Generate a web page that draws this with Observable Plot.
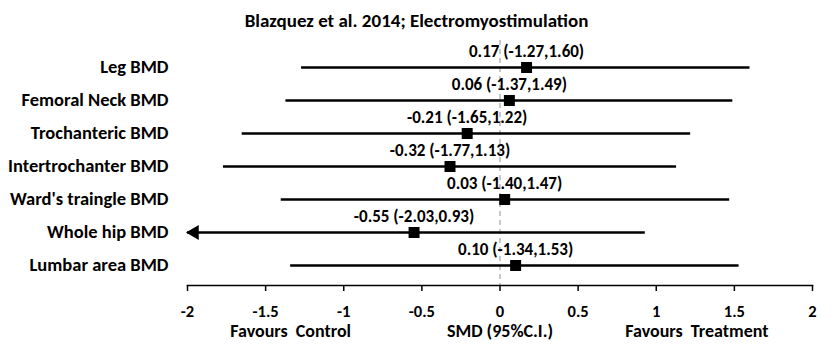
<!DOCTYPE html>
<html><head><meta charset="utf-8">
<script src="https://cdn.jsdelivr.net/npm/d3@7"></script>
<script src="https://cdn.jsdelivr.net/npm/@observablehq/plot@0.6"></script>
<style>
body{margin:0;background:#fff;}
svg{font-family:Carlito,"Liberation Sans Narrow","DejaVu Sans Condensed",sans-serif;font-weight:bold;}
</style></head>
<body><div id="chart"></div>
<script>
const title = "Blazquez et al. 2014; Electromyostimulation";
const outcomes = ["Leg BMD","Femoral Neck BMD","Trochanteric BMD","Intertrochanter BMD","Ward's traingle BMD","Whole hip BMD","Lumbar area BMD"];
const smd = [0.17, 0.06, -0.21, -0.32, 0.03, -0.55, 0.10];
const lower = [-1.27, -1.37, -1.65, -1.77, -1.40, -2.03, -1.34];
const upper = [1.60, 1.49, 1.22, 1.13, 1.47, 0.93, 1.53];
const xTicks = [-2,-1.5,-1,-0.5,0,0.5,1,1.5,2];
const axisLabels = ["Favours  Control","SMD (95%C.I.)","Favours  Treatment"];
const axisLabelX = [-1.34, 0, 1.26];

const XMIN = -2, XMAX = 2;
const rows = outcomes.map((o,i)=>({o, est:smd[i], lo:lower[i], hi:upper[i],
  lab:`${smd[i].toFixed(2)} (${lower[i].toFixed(2)},${upper[i].toFixed(2)})`}));
const clipped = rows.filter(d=>d.lo < XMIN);

const chart = Plot.plot({
  width: 832, height: 360,
  marginLeft: 187, marginRight: 20, marginTop: 40, marginBottom: 75,
  style:{fontSize:"17px", fontWeight:"bold", background:"#fff", color:"#000"},
  x:{domain:[XMIN,XMAX], label:null},
  y:{type:"point", domain:outcomes, padding:0, insetTop:25, insetBottom:18, label:null},
  marks:[
    Plot.ruleX([0],{stroke:"#a6a6a6", strokeDasharray:"5,4", strokeWidth:1.2}),
    Plot.ruleY(rows,{y:"o", x1:d=>Math.max(d.lo,XMIN), x2:d=>Math.min(d.hi,XMAX), stroke:"#000", strokeWidth:2.6}),
    Plot.dot(clipped,{y:"o", x:()=>XMIN, symbol:"triangle", rotate:-90, r:5.5, dx:7, fill:"#000", stroke:"none"}),
    Plot.dot(rows,{y:"o", x:"est", symbol:"square", r:6.2, fill:"#000", stroke:"none"}),
    Plot.text(rows,{y:"o", x:"est", text:"lab", dy:-16, fontSize:17, fontWeight:"bold", fill:"#000"}),
    Plot.frame({anchor:"bottom", stroke:"#000", strokeWidth:1.5}),
    Plot.axisX({ticks:xTicks, tickFormat:d=>String(d), tickSize:6, tickPadding:14, fontSize:16.5, fontWeight:"bold", stroke:"#000", strokeWidth:1.5}),
    Plot.axisY({tickSize:0, tickPadding:19, fontSize:18.5, fontWeight:"bold"}),
    Plot.text(axisLabels,{x:(d,i)=>axisLabelX[i], frameAnchor:"bottom", dy:51, text:d=>d, fontSize:18, fontWeight:"bold", fill:"#000"}),
    Plot.text([title],{frameAnchor:"top", dx:-83.5, dy:-27, text:d=>d, fontSize:19, fontWeight:"bold", fill:"#000"})
  ]
});
document.getElementById("chart").append(chart);
</script></body></html>
